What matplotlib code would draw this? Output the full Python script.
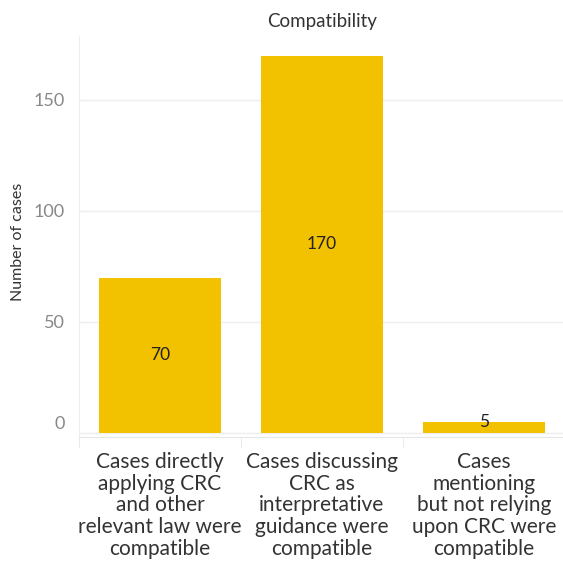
import matplotlib
matplotlib.use("Agg")
import matplotlib.pyplot as plt
import matplotlib.transforms as mtransforms

categories = [
    "Cases directly\napplying CRC\nand other\nrelevant law were\ncompatible",
    "Cases discussing\nCRC as\ninterpretative\nguidance were\ncompatible",
    "Cases\nmentioning\nbut not relying\nupon CRC were\ncompatible",
]
counts = [70, 170, 5]
yticks = [0, 50, 100, 150]

plt.rcParams['font.family'] = ['Lato', 'DejaVu Sans']

fig = plt.figure(figsize=(5.63, 5.61), dpi=100)
ax = fig.add_axes([79 / 563, (561 - 437) / 561, (565 - 79) / 563, (437 - 36) / 561])

x = list(range(len(counts)))
ax.bar(x, counts, width=0.75, color="#F2C200", zorder=2)
for xi, v in zip(x, counts):
    ax.text(xi, max(v / 2, 5), str(v), ha="center", va="center",
            fontsize=12.5, color="#222222", zorder=3)

ax.set_xlim(-0.5, 2.5)
ax.set_ylim(-1.8, 178.8)
ax.set_yticks(yticks)
ax.set_yticklabels([str(t) for t in yticks])
ax.tick_params(axis="y", length=0, labelsize=13, labelcolor="#888888", pad=10)
ax.grid(axis="y", color="#EEEEEE", linewidth=1, zorder=0)

# "0" label sits a little above its gridline, like the original
lbl0 = ax.get_yticklabels()[0]
lbl0.set_transform(lbl0.get_transform() + mtransforms.ScaledTranslation(0, 11 / 100, fig.dpi_scale_trans))

ax.set_xticks([0, 1, 2])
ax.set_xticklabels(categories, fontsize=15, color="#333333", linespacing=1.1)
ax.tick_params(axis="x", length=0, pad=11)
ax.set_xticks([-0.5, 0.5, 1.5, 2.5], minor=True)
ax.tick_params(axis="x", which="minor", length=8, color="#E6E6E6")

for s in ["top", "right"]:
    ax.spines[s].set_visible(False)
ax.spines["left"].set_color("#EEEEEE")
ax.spines["bottom"].set_color("#E6E6E6")

fig.text(18 / 563, 1 - 242 / 561, "Number of cases", rotation=90, ha="center", va="center",
         fontsize=11.5, color="#333333")
fig.text(322 / 563, 1 - 22 / 561, "Compatibility", ha="center", va="center",
         fontsize=13.5, color="#333333")

fig.savefig("out.png", dpi=100)
